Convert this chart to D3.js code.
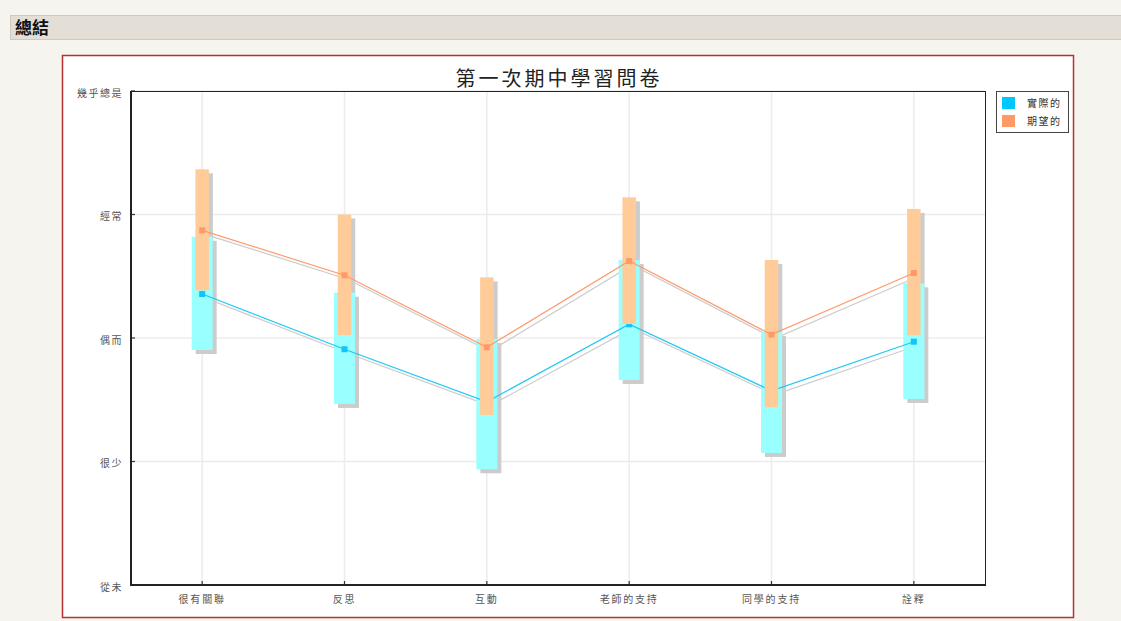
<!DOCTYPE html>
<html>
<head>
<meta charset="utf-8">
<script src="https://d3js.org/d3.v7.min.js"></script>
<style>
  html, body { margin: 0; padding: 0; background: #f5f4ef; }
  svg { display: block; }
</style>
</head>
<body>
<svg id="chart" width="1121" height="621"></svg>
<script>
// ---- data ----
const categories = ["很有關聯", "反思", "互動", "老師的支持", "同學的支持", "詮釋"];
const yTickLabels = ["從未", "很少", "偶而", "經常", "幾乎總是"];
const seriesNames = ["實際的", "期望的"];
const actualMean = [2.356, 1.909, 1.484, 2.111, 1.573, 1.970];
const actualLow  = [1.903, 1.466, 0.937, 1.660, 1.069, 1.506];
const actualHigh = [2.820, 2.367, 1.992, 2.632, 2.049, 2.443];
const expectMean = [2.872, 2.508, 1.925, 2.623, 2.027, 2.526];
const expectLow  = [2.386, 2.024, 1.377, 2.113, 1.439, 2.022];
const expectHigh = [3.366, 3.000, 2.491, 3.139, 2.632, 3.045];

const svg = d3.select("#chart");
const font = "'Noto Sans CJK TC', 'Noto Sans CJK SC', sans-serif";

// header bar
svg.append("rect").attr("x", 10.5).attr("y", 15.5).attr("width", 1115).attr("height", 24)
  .attr("fill", "#e3dfd6").attr("stroke", "#cfcabd");
svg.append("text").attr("x", 15).attr("y", 34).text("總結")
  .attr("font-family", font).attr("font-size", 17).attr("font-weight", "bold").attr("fill", "#111");

// chart frame
svg.append("rect").attr("x", 62.5).attr("y", 55.5).attr("width", 1011).attr("height", 562)
  .attr("fill", "#ffffff").attr("stroke", "#b83030").attr("stroke-width", 1.5);

const plot = { left: 131, top: 91, right: 985, bottom: 585 };
const x = d3.scaleBand().domain(categories).range([plot.left, plot.right]);
const xc = d => x(d) + x.bandwidth() / 2;
const y = d3.scaleLinear().domain([0, 4]).range([plot.bottom, plot.top]);

// title
svg.append("text").attr("x", 559).attr("y", 86).attr("text-anchor", "middle")
  .attr("font-family", font).attr("font-size", 20).attr("letter-spacing", 3)
  .attr("fill", "#222").text("第一次期中學習問卷");

// grid
const g = svg.append("g");
g.selectAll(".hg").data(d3.range(5)).join("line")
  .attr("x1", plot.left).attr("x2", plot.right)
  .attr("y1", d => y(d)).attr("y2", d => y(d))
  .attr("stroke", "#ececec").attr("stroke-width", 1.5);
g.selectAll(".vg").data(categories).join("line")
  .attr("x1", d => xc(d)).attr("x2", d => xc(d))
  .attr("y1", plot.top).attr("y2", plot.bottom)
  .attr("stroke", "#ececec").attr("stroke-width", 1.5);

// axes
const yAxis = d3.axisLeft(y).tickValues(d3.range(5)).tickSize(0)
  .tickFormat(i => yTickLabels[i]).tickPadding(8);
const ya = svg.append("g").attr("transform", `translate(${plot.left},0)`).call(yAxis);
ya.select(".domain").remove();
ya.selectAll("text").attr("font-family", font).attr("font-size", 10)
  .attr("letter-spacing", 1.5).attr("fill", "#555").attr("dy", "0.5em");

const xAxis = d3.axisBottom(x).tickSize(0).tickPadding(11);
const xa = svg.append("g").attr("transform", `translate(0,${plot.bottom})`).call(xAxis);
xa.select(".domain").remove();
xa.selectAll("text").attr("font-family", font).attr("font-size", 10)
  .attr("letter-spacing", 1.8).attr("fill", "#555");

// inner tick marks
svg.append("g").selectAll("line").data(d3.range(5)).join("line")
  .attr("x1", plot.left).attr("x2", plot.left + 4)
  .attr("y1", d => y(d)).attr("y2", d => y(d)).attr("stroke", "#333").attr("stroke-width", 1.2);
svg.append("g").selectAll("line").data(categories).join("line")
  .attr("x1", d => xc(d)).attr("x2", d => xc(d))
  .attr("y1", plot.bottom).attr("y2", plot.bottom - 4).attr("stroke", "#333").attr("stroke-width", 1.2);

// plot frame
svg.append("line").attr("x1", plot.left).attr("x2", plot.right).attr("y1", plot.top + 0.5).attr("y2", plot.top + 0.5)
  .attr("stroke", "#222").attr("stroke-width", 1);
svg.append("line").attr("x1", plot.right + 0.5).attr("x2", plot.right + 0.5).attr("y1", plot.top).attr("y2", plot.bottom)
  .attr("stroke", "#222").attr("stroke-width", 1);
svg.append("line").attr("x1", plot.left).attr("x2", plot.left).attr("y1", plot.top).attr("y2", plot.bottom + 1)
  .attr("stroke", "#222").attr("stroke-width", 2);
svg.append("line").attr("x1", plot.left - 1).attr("x2", plot.right + 1).attr("y1", plot.bottom).attr("y2", plot.bottom)
  .attr("stroke", "#222").attr("stroke-width", 2);

// series
const series = [
  { mean: actualMean, low: actualLow, high: actualHigh, bar: "#99ffff", line: "#1ec8f5", marker: "#14c4f8", w: 21 },
  { mean: expectMean, low: expectLow, high: expectHigh, bar: "#ffcc99", line: "#ff9a6a", marker: "#ff9966", w: 13.5 }
];
const sh = 4;
const lineGen = d3.line().x((d, i) => xc(categories[i])).y(d => y(d));

// shadows
const shadows = svg.append("g");
series.forEach(s => {
  shadows.selectAll(null).data(categories).join("rect")
    .attr("x", (d, i) => xc(d) - s.w / 2 + sh).attr("width", s.w)
    .attr("y", (d, i) => y(s.high[i]) + sh)
    .attr("height", (d, i) => y(s.low[i]) - y(s.high[i]))
    .attr("fill", "#cccccc");
  shadows.append("path").datum(s.mean).attr("d", lineGen)
    .attr("transform", `translate(${sh - 1},${sh})`)
    .attr("fill", "none").attr("stroke", "#cccccc").attr("stroke-width", 1.2);
});

series.forEach(s => {
  const sg = svg.append("g");
  sg.selectAll(null).data(categories).join("rect")
    .attr("x", (d, i) => xc(d) - s.w / 2).attr("width", s.w)
    .attr("y", (d, i) => y(s.high[i]))
    .attr("height", (d, i) => y(s.low[i]) - y(s.high[i]))
    .attr("fill", s.bar);
  sg.append("path").datum(s.mean).attr("d", lineGen)
    .attr("fill", "none").attr("stroke", s.line).attr("stroke-width", 1.2);
  sg.selectAll(null).data(s.mean).join("rect")
    .attr("x", (d, i) => xc(categories[i]) - 3).attr("y", d => y(d) - 3)
    .attr("width", 6).attr("height", 6).attr("fill", s.marker);
});

// legend
const lg = svg.append("g");
lg.append("rect").attr("x", 996.5).attr("y", 91.5).attr("width", 72).attr("height", 41)
  .attr("fill", "#fff").attr("stroke", "#444").attr("stroke-width", 1);
const legendColors = ["#00c8ff", "#ff9966"];
seriesNames.forEach((n, i) => {
  lg.append("rect").attr("x", 1002).attr("y", 97 + i * 18).attr("width", 13).attr("height", 12)
    .attr("fill", legendColors[i]);
  lg.append("text").attr("x", 1027).attr("y", 107 + i * 18).text(n)
    .attr("font-family", font).attr("font-size", 10).attr("letter-spacing", 1.5).attr("fill", "#333");
});
</script>
</body>
</html>
